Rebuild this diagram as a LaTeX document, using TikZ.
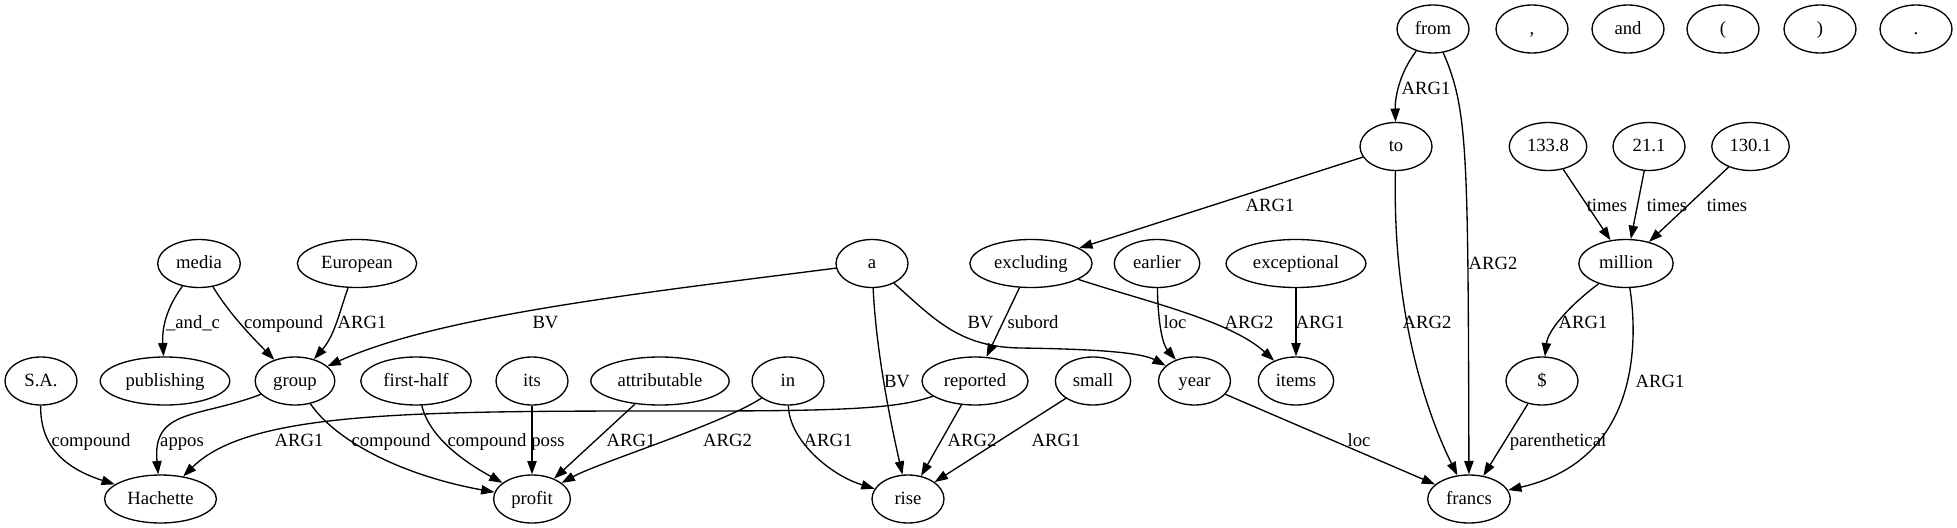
\documentclass[tikz,border=0pt]{standalone}
\usepackage{fontspec}
\setmainfont{Liberation Serif}
\usetikzlibrary{shapes.geometric,arrows.meta}
\begin{document}
\begin{tikzpicture}[x=0.75pt,y=0.75pt,
  nd/.style={ellipse,draw,line width=1pt,minimum width=54pt,minimum height=36pt,
    inner xsep=4.8pt,inner ysep=3pt,font=\fontsize{14}{16}\selectfont,
    text height=11pt,text depth=3pt},
  lbl/.style={inner sep=0pt,font=\fontsize{14}{16}\selectfont,text height=9.3pt,text depth=0pt},
  edge/.style={line width=1pt,-{Triangle[length=10pt,width=7pt]}}]
\useasboundingbox (0,0) rectangle (1957,-528);
% row 0
\node[nd] (from) at (1433,-29) {from};
\node[nd] (comma) at (1532,-29) {,};
\node[nd] (and) at (1628,-29) {and};
\node[nd] (lpar) at (1723,-29) {(};
\node[nd] (rpar) at (1820,-29) {)};
\node[nd] (period) at (1916,-29) {.};
% row 1
\node[nd] (to) at (1396,-146.5) {to};
\node[nd] (n1338) at (1548,-146.5) {133.8};
\node[nd] (n211) at (1649,-146.5) {21.1};
\node[nd] (n1301) at (1750.5,-146.5) {130.1};
% row 2
\node[nd] (media) at (199,-263.5) {media};
\node[nd] (european) at (357,-263.5) {European};
\node[nd] (a) at (872,-263.5) {a};
\node[nd] (excluding) at (1031,-263.5) {excluding};
\node[nd] (earlier) at (1157,-263.5) {earlier};
\node[nd] (exceptional) at (1296,-263.5) {exceptional};
\node[nd] (million) at (1626,-263.5) {million};
% row 3
\node[nd] (sa) at (41,-381) {S.A.};
\node[nd] (publishing) at (165,-381) {publishing};
\node[nd] (group) at (295,-381) {group};
\node[nd] (firsthalf) at (416,-381) {first-half};
\node[nd] (its) at (532,-381) {its};
\node[nd] (attributable) at (660,-381) {attributable};
\node[nd] (in) at (788,-381) {in};
\node[nd] (reported) at (975,-381) {reported};
\node[nd] (small) at (1093,-381) {small};
\node[nd] (year) at (1194.5,-381) {year};
\node[nd] (items) at (1296,-381) {items};
\node[nd] (dollar) at (1542,-381) {\$};
% row 4
\node[nd] (hachette) at (160.5,-499) {Hachette};
\node[nd] (profit) at (532,-499) {profit};
\node[nd] (rise) at (908,-499) {rise};
\node[nd] (francs) at (1469,-499) {francs};

% edges
\draw[edge] (from) .. controls (1398,-75) and (1395,-100) .. (to);
\draw[edge] (from) .. controls (1468,-110) and (1468,-150) .. (francs);
\draw[edge] (to) -- (excluding);
\draw[edge] (to) .. controls (1392,-320) and (1430,-420) .. (francs);
\draw[edge] (n1338) -- (million);
\draw[edge] (n211) -- (million);
\draw[edge] (n1301) -- (million);
\draw[edge] (million) .. controls (1570,-305) and (1548,-330) .. (dollar);
\draw[edge] (million) .. controls (1638,-340) and (1640,-460) .. (francs);
\draw[edge] (dollar) -- (francs);
\draw[edge] (year) -- (francs);
\draw[edge] (exceptional) -- (items);
\draw[edge] (excluding) .. controls (1140,-300) and (1230,-320) .. (items);
\draw[edge] (earlier) .. controls (1158,-325) and (1163,-345) .. (year);
\draw[edge] (excluding) -- (reported);
\draw[edge] (a) .. controls (935,-320) and (960,-347) .. (1020,-348)
  .. controls (1090,-349) and (1140,-352) .. (year);
\draw[edge] (a) .. controls (876,-350) and (890,-420) .. (rise);
\draw[edge] (a) .. controls (650,-292) and (440,-315) .. (group);
\draw[edge] (reported) -- (rise);
\draw[edge] (reported) .. controls (900,-408) and (850,-411) .. (700,-411)
  .. controls (420,-411) and (250,-410) .. (hachette);
\draw[edge] (small) -- (rise);
\draw[edge] (in) .. controls (789,-440) and (830,-475) .. (rise);
\draw[edge] (in) .. controls (720,-425) and (600,-462) .. (profit);
\draw[edge] (attributable) -- (profit);
\draw[edge] (its) -- (profit);
\draw[edge] (firsthalf) .. controls (430,-440) and (470,-465) .. (profit);
\draw[edge] (group) .. controls (335,-440) and (400,-475) .. (profit);
\draw[edge] (group) .. controls (200,-418) and (152,-408) .. (hachette);
\draw[edge] (sa) .. controls (40,-450) and (70,-470) .. (hachette);
\draw[edge] (media) .. controls (165,-310) and (162,-330) .. (publishing);
\draw[edge] (media) .. controls (230,-315) and (255,-340) .. (group);
\draw[edge] (european) .. controls (340,-310) and (335,-335) .. (group);

% labels
\node[lbl] (l1) at (1426,-88) {ARG1};
\node[lbl] (l2) at (1493,-263) {ARG2};
\node[lbl] (l3) at (1270,-205) {ARG1};
\node[lbl] (l4) at (1427,-322) {ARG2};
\node[lbl] (l5) at (1607,-205) {times};
\node[lbl] (l6) at (1667,-205) {times};
\node[lbl] (l7) at (1727,-205) {times};
\node[lbl] (l8) at (1583,-322) {ARG1};
\node[lbl] (l9) at (1660,-381) {ARG1};
\node[lbl] (l10) at (1558,-440) {parenthetical};
\node[lbl] (l11) at (1359,-440) {loc};
\node[lbl] (l12) at (1320,-322) {ARG1};
\node[lbl] (l13) at (1249,-322) {ARG2};
\node[lbl] (l14) at (1175,-322) {loc};
\node[lbl] (l15) at (1033,-322) {subord};
\node[lbl] (l16) at (980.5,-322) {BV};
\node[lbl] (l17) at (897,-381) {BV};
\node[lbl] (l18) at (545.5,-322) {BV};
\node[lbl] (l19) at (972,-440) {ARG2};
\node[lbl] (l20) at (299,-440) {ARG1};
\node[lbl] (l21) at (1056,-440) {ARG1};
\node[lbl] (l22) at (828,-440) {ARG1};
\node[lbl] (l23) at (727.5,-440) {ARG2};
\node[lbl] (l24) at (631,-440) {ARG1};
\node[lbl] (l25) at (548,-440) {poss};
\node[lbl] (l26) at (487,-440) {compound};
\node[lbl] (l27) at (391,-440) {compound};
\node[lbl] (l28) at (182,-440) {appos};
\node[lbl] (l29) at (91,-440) {compound};
\node[lbl] (l30) at (193,-322) {\_and\_c};
\node[lbl] (l31) at (283.5,-322) {compound};
\node[lbl] (l32) at (362,-322) {ARG1};
\end{tikzpicture}
\end{document}
